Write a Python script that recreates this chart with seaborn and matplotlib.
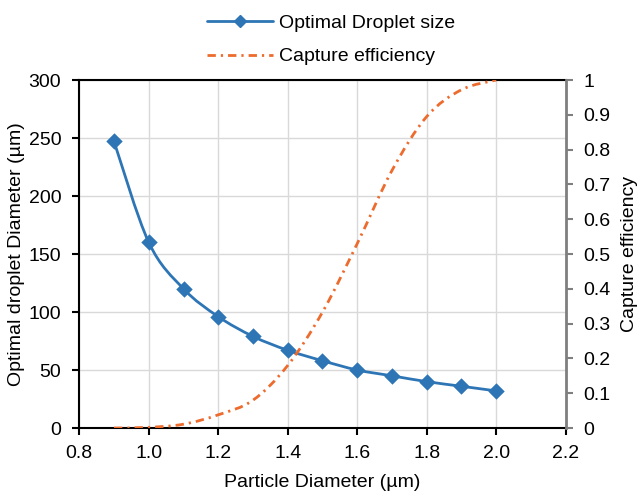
import numpy as np
import matplotlib
matplotlib.use("Agg")
import matplotlib.pyplot as plt
import seaborn as sns
from matplotlib.path import Path
from matplotlib.patches import PathPatch
from matplotlib.lines import Line2D
from matplotlib.ticker import FuncFormatter

# ---- data ----
particle_diameter = [0.9, 1.0, 1.1, 1.2, 1.3, 1.4, 1.5, 1.6, 1.7, 1.8, 1.9, 2.0]
optimal_droplet = [247, 160, 120, 96, 79, 67, 58, 50, 45, 40, 36, 32]
capture_efficiency = [0.0, 0.002, 0.011, 0.038, 0.08, 0.18, 0.333, 0.53, 0.74, 0.895, 0.972, 1.0]

series_labels = ["Optimal Droplet size", "Capture efficiency"]
x_label = "Particle Diameter (µm)"
y_label_left = "Optimal droplet Diameter (µm)"
y_label_right = "Capture efficiency"

BLUE = "#2E75B6"
ORANGE = "#EC6B2D"
FS = 14

sns.set_style("white")
plt.rcParams["font.family"] = ["Liberation Sans", "DejaVu Sans"]
plt.rcParams["text.color"] = "black"
plt.rcParams["axes.labelcolor"] = "black"
plt.rcParams["xtick.color"] = "black"
plt.rcParams["ytick.color"] = "black"


def smooth_path(x, y):
    """Excel-like smoothed line: cubic Bezier segments through the data points."""
    pts = np.column_stack([x, y]).astype(float)
    n = len(pts)
    verts = [pts[0]]
    codes = [Path.MOVETO]
    for i in range(n - 1):
        p0 = pts[i - 1] if i > 0 else pts[i]
        p1 = pts[i]
        p2 = pts[i + 1]
        p3 = pts[i + 2] if i + 2 < n else pts[i + 1]
        verts += [p1 + (p2 - p0) / 6.0, p2 - (p3 - p1) / 6.0, p2]
        codes += [Path.CURVE4] * 3
    return Path(verts, codes)


fig = plt.figure(figsize=(6.41, 4.93), dpi=100)
ax = fig.add_axes([0.1237, 0.1318, 0.7588, 0.7059])
ax2 = ax.twinx()

# left axis: optimal droplet size
ax.add_patch(PathPatch(smooth_path(particle_diameter, optimal_droplet),
                       facecolor="none", edgecolor=BLUE, lw=2.0, zorder=3))
sns.scatterplot(x=particle_diameter, y=optimal_droplet, ax=ax, marker="D",
                s=70, color=BLUE, edgecolor=BLUE, linewidth=0, zorder=4,
                legend=False)

# right axis: capture efficiency
dash = (0, (3.0, 1.8, 0.8, 1.8))
ax2.add_patch(PathPatch(smooth_path(particle_diameter, capture_efficiency),
                        facecolor="none", edgecolor=ORANGE, lw=2.0,
                        linestyle=dash, zorder=3))

ax.set_xlim(0.8, 2.2)
ax.set_ylim(0, 300)
ax2.set_ylim(0, 1)
ax.set_xticks(np.arange(0.8, 2.21, 0.2))
ax.set_yticks(np.arange(0, 301, 50))
ax2.set_yticks(np.arange(0, 1.001, 0.1))
ax.xaxis.set_major_formatter(FuncFormatter(lambda v, p: f"{v:.1f}"))
ax2.yaxis.set_major_formatter(FuncFormatter(lambda v, p: f"{round(v, 1):g}"))

ax.grid(True, color="#d9d9d9", lw=1.0)
ax.set_axisbelow(True)
ax2.grid(False)

for s in ["left", "bottom", "top"]:
    ax.spines[s].set_color("black")
    ax.spines[s].set_linewidth(1.5)
ax.spines["right"].set_visible(False)
for s in ["left", "bottom", "top"]:
    ax2.spines[s].set_visible(False)
ax2.spines["right"].set_color("#7f7f7f")
ax2.spines["right"].set_linewidth(2.0)

ax.tick_params(axis="x", direction="out", length=5, width=1.5, color="black",
               labelsize=FS, pad=7, bottom=True)
ax.tick_params(axis="y", direction="out", length=5, width=1.5, color="black",
               labelsize=FS, pad=8, left=True)
ax2.tick_params(axis="y", direction="out", length=5, width=1.5, color="#7f7f7f",
                labelsize=FS, pad=8, right=True)

ax.set_xlabel(x_label, fontsize=FS, labelpad=9)
ax.set_ylabel(y_label_left, fontsize=FS, labelpad=2.5)
ax2.set_ylabel(y_label_right, fontsize=FS, labelpad=7)

handles = [
    Line2D([], [], color=BLUE, lw=2.0, marker="D", markersize=6),
    Line2D([], [], color=ORANGE, lw=2.0, linestyle=dash),
]
fig.legend(handles, series_labels, loc="center", bbox_to_anchor=(331 / 641, 1 - 40 / 493),
           frameon=False, fontsize=FS, handlelength=3.4, handletextpad=0.3,
           labelspacing=0.8, borderpad=0)

fig.savefig("out.png", dpi=100)
